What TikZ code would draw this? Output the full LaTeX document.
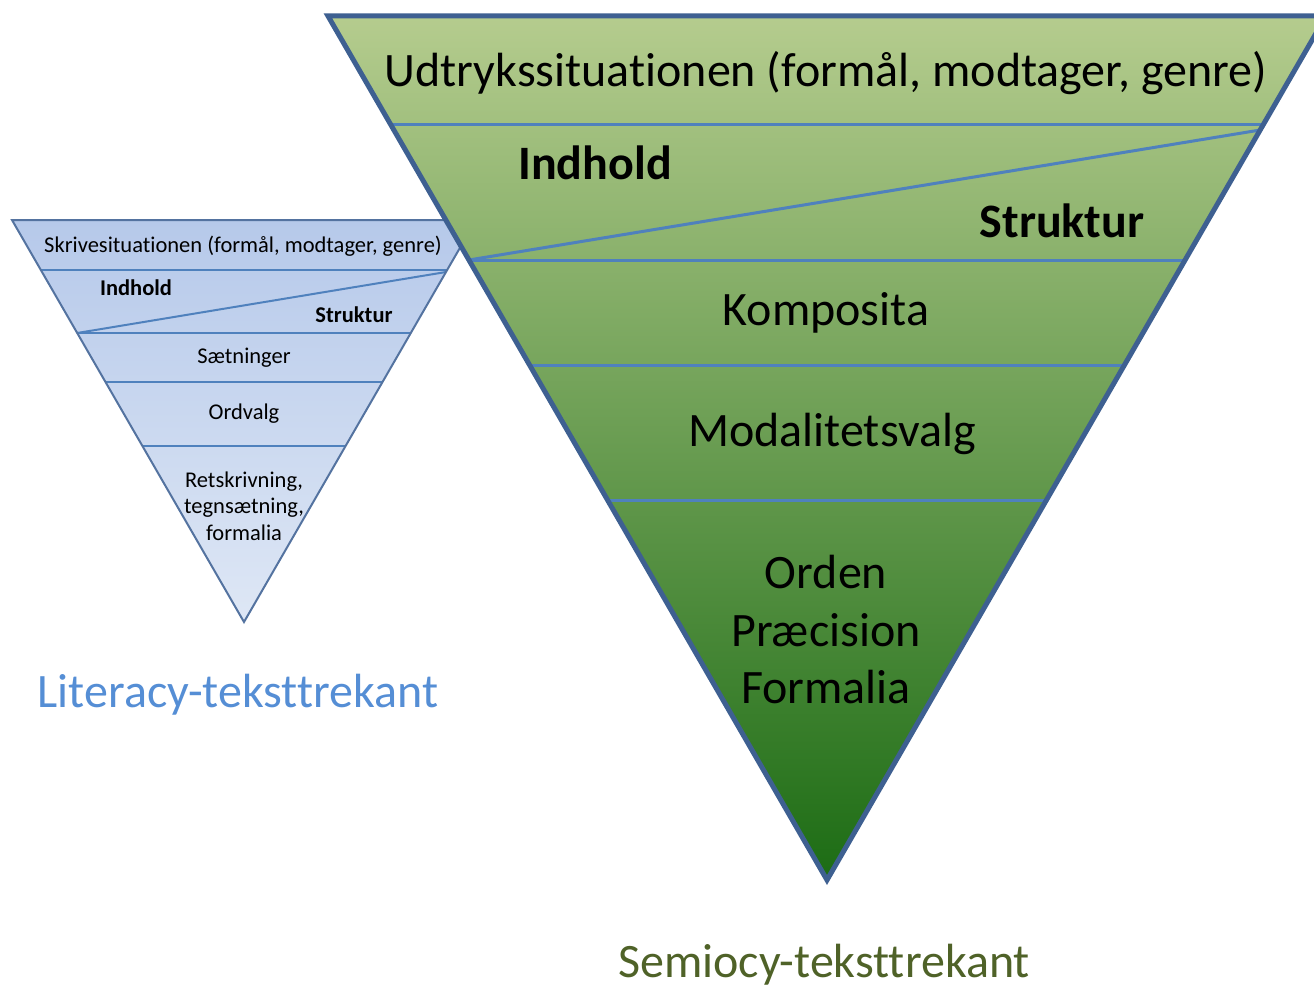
\documentclass[tikz,border=0pt]{standalone}
\usepackage{fontspec}
\setmainfont{Carlito}[Ligatures=NoCommon]
\definecolor{bigline}{RGB}{62,96,145}
\definecolor{divline}{RGB}{79,129,189}
\definecolor{smallline}{RGB}{84,115,160}
\definecolor{gtop}{RGB}{181,204,142}
\definecolor{gmid}{RGB}{130,172,88}
\definecolor{gbot}{RGB}{28,108,20}
\definecolor{btop}{RGB}{182,201,234}
\definecolor{bbot}{RGB}{222,231,245}
\definecolor{litblue}{RGB}{85,142,213}
\definecolor{semgreen}{RGB}{79,98,40}
\tikzset{
  bigtxt/.style={font=\fontsize{48}{57.5}\selectfont, align=center, inner sep=0pt},
  bigbold/.style={font=\fontsize{48}{57.5}\selectfont\bfseries, inner sep=0pt},
  smalltxt/.style={font=\fontsize{22.5}{26.5}\selectfont, align=center, inner sep=0pt},
  smallbold/.style={font=\fontsize{22.5}{26.5}\selectfont\bfseries, inner sep=0pt},
  bigdiv/.style={draw=divline, line width=3pt},
  smalldiv/.style={draw=divline, line width=2pt},
  caption/.style={font=\fontsize{48}{55}\selectfont, inner sep=0pt}
}
\begin{document}
\begin{tikzpicture}[x=1pt,y=-1pt]
\useasboundingbox (0,0) rectangle (1314,990);
\clip (0,0) rectangle (1314,990);
% ---------- small triangle ----------
\coordinate (sA) at (12,220);
\coordinate (sB) at (476,220);
\coordinate (sC) at (244,622);
\shade[top color=btop, bottom color=bbot] (sA) -- (sB) -- (sC) -- cycle;
\coordinate (s1l) at (40.9,270); \coordinate (s1r) at (447.1,270);
\coordinate (s2l) at (77.2,333); \coordinate (s2r) at (410.8,333);
\coordinate (s3l) at (105.5,382); \coordinate (s3r) at (382.5,382);
\coordinate (s4l) at (142.4,446); \coordinate (s4r) at (345.6,446);
\coordinate (sdr) at (446,272);
\draw[smalldiv] (s1l) -- (s1r);
\draw[smalldiv] (s2l) -- (s2r);
\draw[smalldiv] (s3l) -- (s3r);
\draw[smalldiv] (s4l) -- (s4r);
\draw[smalldiv] (s2l) -- (sdr);
\draw[smallline, line width=2pt, line join=miter] (sA) -- (sB) -- (sC) -- cycle;
\node[smalltxt] (st1) at (243,246) {Skrivesituationen (formål, modtager, genre)};
\node[smallbold] (st2) at (136,288) {Indhold};
\node[smallbold] (st3) at (354,315) {Struktur};
\node[smalltxt] (st4) at (244,358) {Sætninger};
\node[smalltxt] (st5) at (244,414) {Ordvalg};
\node[smalltxt] (st6) at (244,506) {Retskrivning,\\tegnsætning,\\formalia};
\node[caption, text=litblue] (lit) at (238,695) {Literacy-teksttrekant};
% ---------- big triangle ----------
\coordinate (bA) at (328,16);
\coordinate (bB) at (1326,16);
\coordinate (bC) at (827,880);
\shade[top color=gtop, middle color=gmid, bottom color=gbot] (bA) -- (bB) -- (bC) -- cycle;
\coordinate (b1l) at (390.4,124); \coordinate (b1r) at (1263.6,124);
\coordinate (b2l) at (468.9,260); \coordinate (b2r) at (1185.1,260);
\coordinate (b3l) at (529.5,365); \coordinate (b3r) at (1124.5,365);
\coordinate (b4l) at (607.5,500); \coordinate (b4r) at (1046.5,500);
\coordinate (bdr) at (1260.2,130);
\draw[bigdiv] (b1l) -- (b1r);
\draw[bigdiv] (b2l) -- (b2r);
\draw[bigdiv] (b3l) -- (b3r);
\draw[bigdiv] (b4l) -- (b4r);
\draw[bigdiv] (b2l) -- (bdr);
\draw[bigline, line width=5pt, line join=miter] (bA) -- (bB) -- (bC) -- cycle;
\node[bigtxt] (bt1) at (826,73) {Udtrykssituationen (formål, modtager, genre)};
\node[bigbold] (bt2) at (595,163) {Indhold};
\node[bigbold] (bt3) at (1062,221) {Struktur};
\node[bigtxt] (bt4) at (826,313) {Komposita};
\node[bigtxt] (bt5) at (832,434) {Modalitetsvalg};
\node[bigtxt] (bt6) at (826,630) {Orden\\Præcision\\Formalia};
\node[caption, text=semgreen, anchor=base] (sem) at (824,977) {Semiocy-teksttrekant};
\end{tikzpicture}
\end{document}
